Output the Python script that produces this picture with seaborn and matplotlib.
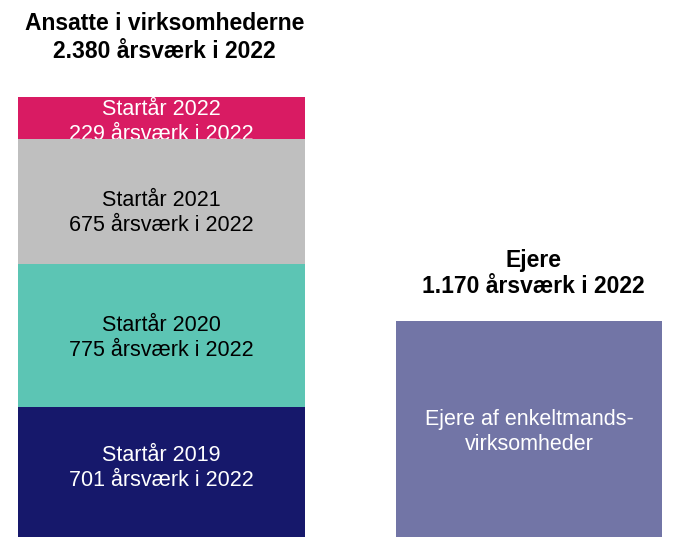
import matplotlib
matplotlib.use('Agg')
import matplotlib.pyplot as plt
import seaborn as sns
import numpy as np

groups = ['Ansatte', 'Ejere']
start_years = ['Startår 2019', 'Startår 2020', 'Startår 2021', 'Startår 2022']
ansatte_values = [701, 775, 675, 229]
ejere_values = [1170]
ejere_label = 'Ejere af enkeltmands-\nvirksomheder'
titles = ['Ansatte i virksomhederne\n2.380 årsværk i 2022', 'Ejere\n1.170 årsværk i 2022']

seg_colors = ['#16186b', '#5cc5b4', '#bfbfbf', '#d91b63']
seg_text_colors = ['white', 'black', 'black', 'white']
ejere_color = '#7275a6'
# small vertical nudges (points) for the labels inside the segments
seg_nudge = [3, -1.5, -8, -2.5]

sns.set_theme(style='white')
plt.rcParams['font.family'] = ['Liberation Sans', 'DejaVu Sans']

fig = plt.figure(figsize=(7, 5.37), dpi=100)
ax = fig.add_axes([0, 0, 1, 1])

cum = np.cumsum(ansatte_values)
# stack by drawing the cumulative totals from the top down
for i in reversed(range(len(ansatte_values))):
    sns.barplot(x=['Ansatte'], y=[cum[i]], order=groups, color=seg_colors[i],
                saturation=1, width=0.781, linewidth=0, ax=ax,
                zorder=1 if i == len(ansatte_values) - 1 else 2)

sns.barplot(x=['Ejere'], y=ejere_values, order=groups, color=ejere_color,
            saturation=1, width=0.724, linewidth=0, ax=ax, zorder=2)

for i, v in enumerate(ansatte_values):
    txt = f'{start_years[i]}\n{v} årsværk i 2022'
    ax.annotate(txt, xy=(0, cum[i] - v / 2), xytext=(0, seg_nudge[i]),
                textcoords='offset points', ha='center', va='center',
                color=seg_text_colors[i], fontsize=15.5, linespacing=1.25,
                zorder=1.5 if i == len(ansatte_values) - 1 else 3)

ax.annotate(ejere_label, xy=(1, ejere_values[0] / 2), xytext=(0, -2),
            textcoords='offset points', ha='center', va='center',
            color='white', fontsize=15.5, linespacing=1.25)

ax.annotate(titles[0], xy=(0, cum[-1]), xytext=(2, 43), textcoords='offset points',
            ha='center', va='center', fontsize=16.5, fontweight='bold',
            linespacing=1.3, color='black')
ax.annotate(titles[1], xy=(1, ejere_values[0]), xytext=(3, 34), textcoords='offset points',
            ha='center', va='center', fontsize=16.5, fontweight='bold',
            linespacing=1.17, color='black')

ax.set_xlim(-0.4395, 1.465)
ax.set_ylim(0, 2905)
ax.axis('off')

plt.savefig('out.png', dpi=100)
